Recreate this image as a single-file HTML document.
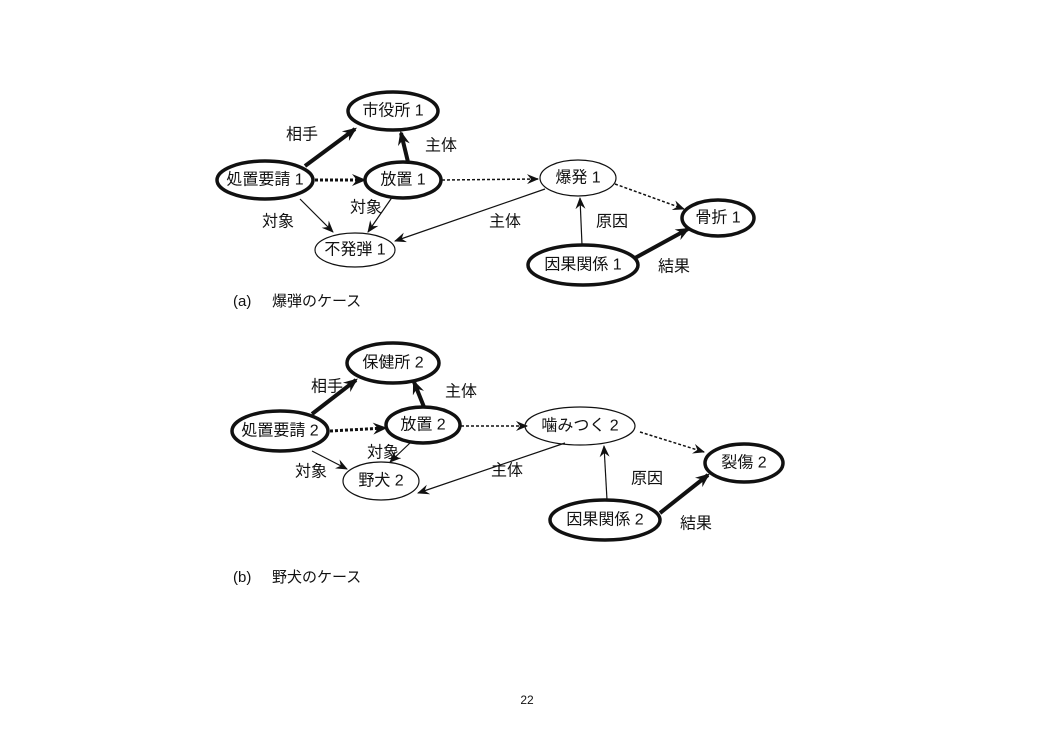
<!DOCTYPE html>
<html><head><meta charset="utf-8"><style>
html,body{margin:0;padding:0;background:#fff;}
svg text{font-family:"Liberation Sans","Noto Sans CJK JP",sans-serif;font-size:16px;fill:#111;}
</style></head><body>
<svg width="1054" height="750" viewBox="0 0 1054 750" xmlns="http://www.w3.org/2000/svg">
<defs>
<marker id="a" viewBox="0 0 12 10" refX="11" refY="5" markerWidth="12" markerHeight="10" markerUnits="userSpaceOnUse" orient="auto">
<path d="M0,0 L12,5 L0,10 L4,5 z" fill="#111"/></marker>
<marker id="b" viewBox="0 0 12 10" refX="10" refY="5" markerWidth="15" markerHeight="12" markerUnits="userSpaceOnUse" orient="auto">
<path d="M0,0 L12,5 L0,10 L4,5 z" fill="#111"/></marker>
</defs>
<g stroke="#111" fill="none">
<!-- (a) edges -->
<line x1="305" y1="166" x2="355" y2="129" stroke-width="4" marker-end="url(#b)"/>
<line x1="408" y1="162" x2="401" y2="133" stroke-width="4" marker-end="url(#b)"/>
<line x1="315" y1="180" x2="364" y2="180" stroke-width="3" stroke-dasharray="3,2" marker-end="url(#b)"/>
<line x1="442" y1="180" x2="538" y2="179" stroke-width="1.5" stroke-dasharray="3,2" marker-end="url(#a)"/>
<line x1="615" y1="184" x2="684" y2="209" stroke-width="1.5" stroke-dasharray="3,2" marker-end="url(#a)"/>
<line x1="300" y1="199" x2="333" y2="232" stroke-width="1.2" marker-end="url(#a)"/>
<line x1="393" y1="196" x2="368" y2="232" stroke-width="1.2" marker-end="url(#a)"/>
<line x1="545" y1="189" x2="395" y2="241" stroke-width="1.2" marker-end="url(#a)"/>
<line x1="582" y1="245" x2="580" y2="198" stroke-width="1.2" marker-end="url(#a)"/>
<line x1="635" y1="258" x2="688" y2="229" stroke-width="4" marker-end="url(#b)"/>
<!-- (a) nodes -->
<ellipse cx="393" cy="111" rx="45" ry="19" stroke-width="3.5"/>
<ellipse cx="265" cy="180" rx="48" ry="19" stroke-width="3.5"/>
<ellipse cx="403" cy="180" rx="38" ry="18" stroke-width="3.5"/>
<ellipse cx="578" cy="178" rx="38" ry="18" stroke-width="1.2"/>
<ellipse cx="718" cy="218" rx="36" ry="18" stroke-width="3.5"/>
<ellipse cx="355" cy="250" rx="40" ry="17" stroke-width="1.2"/>
<ellipse cx="583" cy="265" rx="55" ry="20" stroke-width="3.5"/>
<!-- (b) edges -->
<line x1="312" y1="414" x2="356" y2="380" stroke-width="4" marker-end="url(#b)"/>
<line x1="424" y1="407" x2="414" y2="382" stroke-width="4" marker-end="url(#b)"/>
<line x1="330" y1="431" x2="385" y2="428" stroke-width="3" stroke-dasharray="3,2" marker-end="url(#b)"/>
<line x1="461" y1="426" x2="527" y2="426" stroke-width="1.5" stroke-dasharray="3,2" marker-end="url(#a)"/>
<line x1="640" y1="432" x2="704" y2="452" stroke-width="1.5" stroke-dasharray="3,2" marker-end="url(#a)"/>
<line x1="312" y1="451" x2="347" y2="469" stroke-width="1.2" marker-end="url(#a)"/>
<line x1="410" y1="443" x2="390" y2="462" stroke-width="1.2" marker-end="url(#a)"/>
<line x1="565" y1="443" x2="418" y2="493" stroke-width="1.2" marker-end="url(#a)"/>
<line x1="607" y1="500" x2="604" y2="446" stroke-width="1.2" marker-end="url(#a)"/>
<line x1="660" y1="513" x2="708" y2="475" stroke-width="4" marker-end="url(#b)"/>
<!-- (b) nodes -->
<ellipse cx="393" cy="363" rx="46" ry="20" stroke-width="3.5"/>
<ellipse cx="280" cy="431" rx="48" ry="20" stroke-width="3.5"/>
<ellipse cx="423" cy="425" rx="37" ry="18" stroke-width="3.5"/>
<ellipse cx="580" cy="426" rx="55" ry="19" stroke-width="1.2"/>
<ellipse cx="744" cy="463" rx="39" ry="19" stroke-width="3.5"/>
<ellipse cx="381" cy="481" rx="38" ry="19" stroke-width="1.2"/>
<ellipse cx="605" cy="520" rx="55" ry="20" stroke-width="3.5"/>
</g>
<g text-anchor="middle" dominant-baseline="central">
<text x="393" y="111">市役所 1</text>
<text x="265" y="180">処置要請 1</text>
<text x="403" y="180">放置 1</text>
<text x="578" y="178">爆発 1</text>
<text x="718" y="218">骨折 1</text>
<text x="355" y="250">不発弾 1</text>
<text x="583" y="265">因果関係 1</text>
<text x="302" y="135">相手</text>
<text x="441" y="146">主体</text>
<text x="278" y="222">対象</text>
<text x="366" y="208">対象</text>
<text x="505" y="222">主体</text>
<text x="612" y="222">原因</text>
<text x="674" y="267">結果</text>

<text x="393" y="363">保健所 2</text>
<text x="280" y="431">処置要請 2</text>
<text x="423" y="425">放置 2</text>
<text x="580" y="426">噛みつく 2</text>
<text x="744" y="463">裂傷 2</text>
<text x="381" y="481">野犬 2</text>
<text x="605" y="520">因果関係 2</text>
<text x="327" y="387">相手</text>
<text x="461" y="392">主体</text>
<text x="311" y="472">対象</text>
<text x="383" y="453">対象</text>
<text x="507" y="471">主体</text>
<text x="647" y="479">原因</text>
<text x="696" y="524">結果</text>
</g>
<text x="233" y="306" style="font-size:15px">(a)</text>
<text x="272" y="306" style="font-size:15px">爆弾のケース</text>
<text x="233" y="582" style="font-size:15px">(b)</text>
<text x="272" y="582" style="font-size:15px">野犬のケース</text>
<text x="527" y="704" text-anchor="middle" style="font-size:12px">22</text>
</svg>
</body></html>
